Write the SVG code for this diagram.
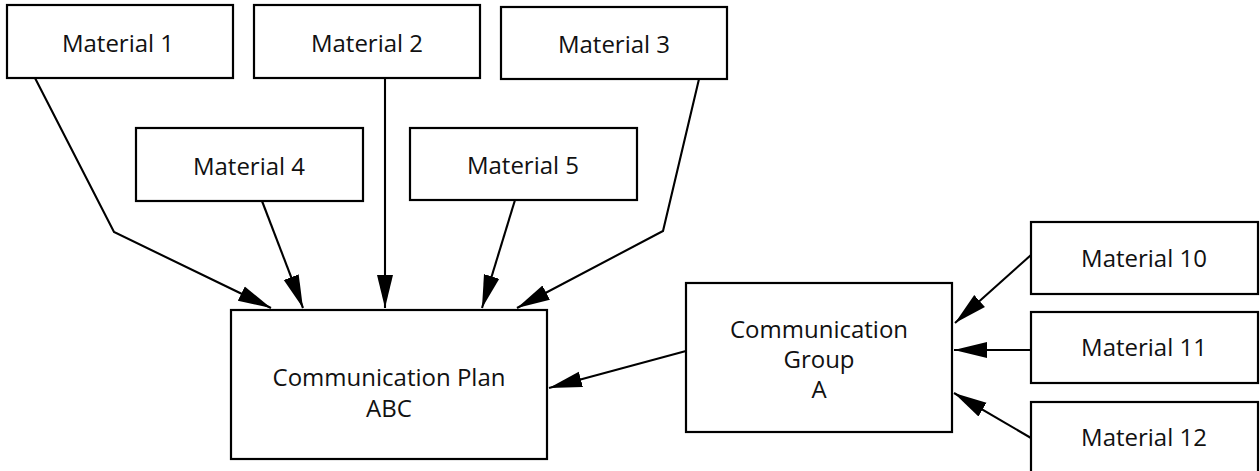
<svg xmlns="http://www.w3.org/2000/svg" width="1260" height="471" viewBox="0 0 1260 471">
  <style>
    .box { fill: #ffffff; stroke: #000000; stroke-width: 2.2; }
    .lbl { font-family: "Open Sans", "Liberation Sans", sans-serif; font-size: 24px; fill: #111111; text-anchor: middle; }
    .edge { fill: none; stroke: #000000; stroke-width: 2.1; marker-end: url(#arrow); }
  </style>
  <defs>
    <marker id="arrow" markerUnits="userSpaceOnUse" markerWidth="36" markerHeight="20" viewBox="0 -10 36 20" refX="33" refY="0" orient="auto">
      <path d="M33,0 L0,-8 L0,8 Z" fill="#000000"/>
    </marker>
  </defs>

  <rect width="1260" height="471" fill="#ffffff"/>

  <!-- connectors -->
  <g id="connectors">
    <polyline class="edge" points="35,78 114,232 271,308"/>
    <polyline class="edge" points="262,201 303,308"/>
    <polyline class="edge" points="385,78 385,308"/>
    <polyline class="edge" points="515,200 482,308"/>
    <polyline class="edge" points="699,79 663,231 517,308"/>
    <polyline class="edge" points="686,351 549,388"/>
    <polyline class="edge" points="1031,255 955,323"/>
    <polyline class="edge" points="1031,350 954,350"/>
    <polyline class="edge" points="1031,438 954,393"/>
  </g>

  <!-- material sources -->
  <g id="material-1">
    <rect class="box" x="7" y="5" width="226" height="73"/>
    <text class="lbl" x="118" y="52">Material 1</text>
  </g>
  <g id="material-2">
    <rect class="box" x="254" y="5" width="226" height="73"/>
    <text class="lbl" x="367" y="52">Material 2</text>
  </g>
  <g id="material-3">
    <rect class="box" x="501" y="7" width="226" height="72"/>
    <text class="lbl" x="614" y="53">Material 3</text>
  </g>
  <g id="material-4">
    <rect class="box" x="136" y="128" width="227" height="73"/>
    <text class="lbl" x="249" y="175">Material 4</text>
  </g>
  <g id="material-5">
    <rect class="box" x="410" y="128" width="227" height="72"/>
    <text class="lbl" x="523" y="174">Material 5</text>
  </g>

  <!-- plan -->
  <g id="communication-plan">
    <rect class="box" x="231" y="310" width="316" height="149"/>
    <text class="lbl" x="389" y="386">Communication Plan</text>
    <text class="lbl" x="389" y="417">ABC</text>
  </g>

  <!-- group -->
  <g id="communication-group-a">
    <rect class="box" x="686" y="283" width="266" height="149"/>
    <text class="lbl" x="819" y="338">Communication</text>
    <text class="lbl" x="819" y="368">Group</text>
    <text class="lbl" x="819" y="398">A</text>
  </g>

  <g id="material-10">
    <rect class="box" x="1031" y="222" width="227" height="72"/>
    <text class="lbl" x="1144" y="267">Material 10</text>
  </g>
  <g id="material-11">
    <rect class="box" x="1031" y="312" width="227" height="71"/>
    <text class="lbl" x="1144" y="356">Material 11</text>
  </g>
  <g id="material-12">
    <rect class="box" x="1031" y="402" width="227" height="74"/>
    <text class="lbl" x="1144" y="446">Material 12</text>
  </g>
</svg>
